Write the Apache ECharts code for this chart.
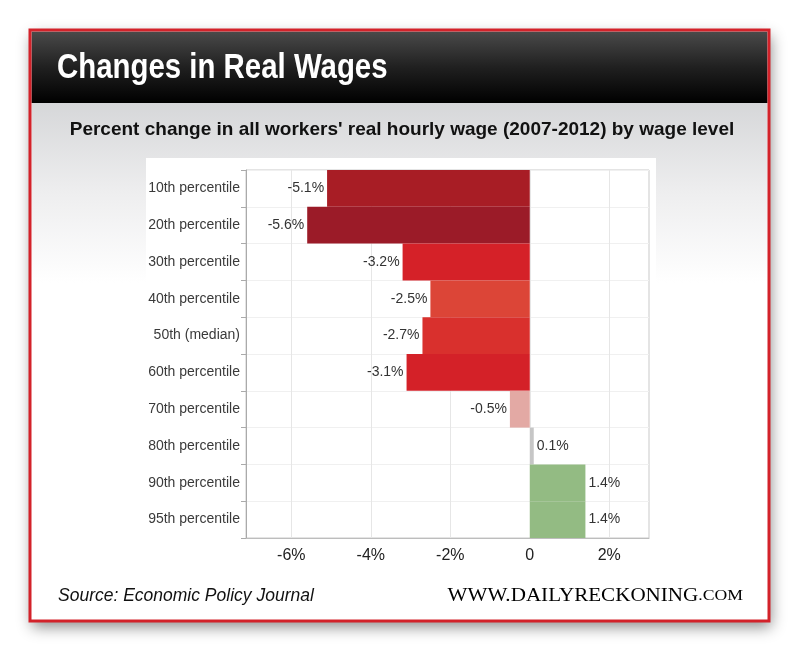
<!DOCTYPE html>
<html>
<head>
<meta charset="utf-8">
<script src="https://cdn.jsdelivr.net/npm/echarts@6/dist/echarts.min.js"></script>
<style>
html,body{margin:0;padding:0;background:#fff;}
#c{width:800px;height:655px;}
</style>
</head>
<body>
<div id="c"></div>
<script>
const categories = ['10th percentile','20th percentile','30th percentile','40th percentile','50th (median)','60th percentile','70th percentile','80th percentile','90th percentile','95th percentile'];
const values = [-5.1, -5.6, -3.2, -2.5, -2.7, -3.1, -0.5, 0.1, 1.4, 1.4];
const barColors = ['#a81d25','#9b1b28','#d52128','#dc4537','#d9302d','#d42128','#e3a9a4','#c6c6c6','#93bb83','#93bb83'];
const tickValues = [-6, -4, -2, 0, 2];
const titleText = 'Changes in Real Wages';
const subtitleText = "Percent change in all workers' real hourly wage (2007-2012) by wage level";
const sourceText = 'Source: Economic Policy Journal';

const chart = echarts.init(document.getElementById('c'), null, {renderer: 'canvas'});

const seriesData = values.map((v, i) => ({
  value: v,
  itemStyle: {color: barColors[i]},
  label: {position: v < 0 ? 'left' : 'right'}
}));

chart.setOption({
  animation: false,
  backgroundColor: '#ffffff',
  graphic: [
    // shadow-casting card (no stroke)
    {type: 'rect', z: -10, shape: {x: 30, y: 30, width: 739, height: 591},
     style: {fill: '#ffffff', shadowBlur: 14, shadowColor: 'rgba(0,0,0,0.45)', shadowOffsetX: 2, shadowOffsetY: 6}},
    {type: 'rect', z: -9, shape: {x: 31.5, y: 103, width: 736, height: 180},
     style: {fill: new echarts.graphic.LinearGradient(0, 0, 0, 1, [
       {offset: 0, color: '#d6d7d9'}, {offset: 0.5, color: '#eeeeef'}, {offset: 1, color: '#ffffff'}])}},
    {type: 'rect', z: -8, shape: {x: 31.5, y: 31.5, width: 736, height: 71.5},
     style: {fill: new echarts.graphic.LinearGradient(0, 0, 0, 1, [
       {offset: 0, color: '#4a4a4a'}, {offset: 0.5, color: '#202020'}, {offset: 1, color: '#000000'}])}},
    {type: 'rect', z: -7, shape: {x: 146, y: 158, width: 510, height: 400},
     style: {fill: '#ffffff'}},
    // red border on top
    {type: 'rect', z: 10, silent: true, shape: {x: 30, y: 30, width: 739, height: 591},
     style: {fill: 'none', stroke: '#d3222a', lineWidth: 3}},
    {type: 'text', z: 5, x: 57, y: 68, scaleX: 0.84, originX: 0, originY: 0,
     style: {text: titleText, fill: '#ffffff', verticalAlign: 'middle',
       font: 'bold 35px "Liberation Sans", Arial, sans-serif'}},
    {type: 'text', z: 5, x: 402, y: 130,
     style: {text: subtitleText, fill: '#111111', align: 'center', verticalAlign: 'middle',
       font: 'bold 19px "Liberation Sans", Arial, sans-serif'}},
    {type: 'text', z: 5, x: 58, y: 596,
     style: {text: sourceText, fill: '#111111', verticalAlign: 'middle',
       font: 'italic 17.5px "Liberation Sans", Arial, sans-serif'}},
    {type: 'text', z: 5, x: 743, y: 596, scaleX: 1.14, originX: 0, originY: 0,
     style: {text: '{a|WWW.DAILYRECKONING}{b|.COM}', align: 'right', verticalAlign: 'middle',
       rich: {
         a: {fontFamily: '"Liberation Serif", "DejaVu Serif", serif', fontSize: 18.5, color: '#111111'},
         b: {fontFamily: '"Liberation Serif", "DejaVu Serif", serif', fontSize: 15.5, color: '#111111'}
       }}}
  ],
  grid: {left: 246, right: 151, top: 170, bottom: 117, show: true,
    backgroundColor: '#ffffff', borderColor: '#c9c9c9', borderWidth: 1},
  xAxis: {
    type: 'value', min: -7.14, max: 3,
    axisLine: {show: true, onZero: false, lineStyle: {color: '#bdbdbd'}},
    axisTick: {show: false, customValues: tickValues},
    splitLine: {show: true, lineStyle: {color: '#e6e6e6'}},
    axisLabel: {customValues: tickValues, color: '#222222', fontSize: 16, margin: 10,
      fontFamily: '"Liberation Sans", Arial, sans-serif',
      formatter: v => v === 0 ? '0' : v + '%'}
  },
  yAxis: {
    type: 'category', data: categories, inverse: true,
    axisLine: {show: true, onZero: false, lineStyle: {color: '#aaaaaa'}},
    axisTick: {show: true, length: 5, lineStyle: {color: '#aaaaaa'}},
    splitLine: {show: true, lineStyle: {color: '#f0f0f0'}},
    axisLabel: {color: '#3a3a3a', fontSize: 14, margin: 6,
      fontFamily: '"Liberation Sans", Arial, sans-serif'}
  },
  series: [{
    type: 'bar', data: seriesData, barCategoryGap: '0%',
    label: {show: true, distance: 3, color: '#333333', fontSize: 14,
      fontFamily: '"Liberation Sans", Arial, sans-serif',
      formatter: p => p.value + '%'}
  }]
});
</script>
</body>
</html>
